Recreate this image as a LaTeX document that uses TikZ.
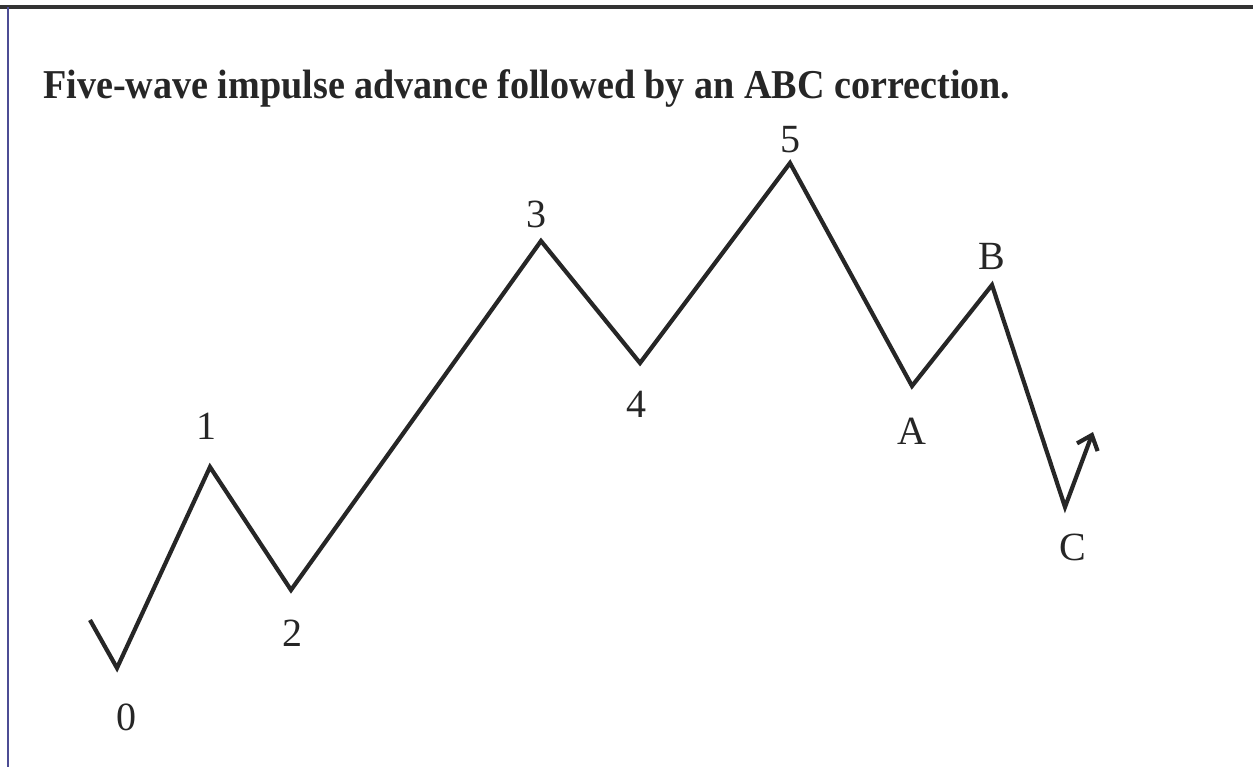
\documentclass[tikz,border=0pt]{standalone}
\usepackage{fontspec}
\setmainfont{Liberation Serif}
\usetikzlibrary{arrows.meta}
\begin{document}
\begin{tikzpicture}[x=1pt,y=-1pt,
  wave/.style={line width=4.2pt,draw=black!85,line join=miter,line cap=butt},
  lab/.style={font=\fontsize{40}{40}\selectfont,inner sep=0pt,text=black!85},
  frameline/.style={draw=black!80}]
\useasboundingbox (0,0) rectangle (1253,767);
\fill[white] (0,0) rectangle (1253,767);
% frame
\coordinate (ftl) at (8,7);
\coordinate (ftr) at (1253,7);
\coordinate (fbl) at (8,767);
\draw[frameline,line width=4pt] (0,7) -- (ftr);
\draw[frameline,line width=2pt,draw=black!60!blue!70] (ftl) -- (fbl);
% title
\node[anchor=base west,inner sep=0pt,font=\bfseries\fontsize{41}{41}\selectfont,text=black!85,xscale=0.93] (title) at (43,99)
  {Five-wave impulse advance followed by an ABC correction.};
% wave points
\coordinate (s) at (90,620);
\coordinate (p0) at (117,668);
\coordinate (p1) at (210,467);
\coordinate (p2) at (291,590);
\coordinate (p3) at (541,241);
\coordinate (p4) at (640,363);
\coordinate (p5) at (790,163);
\coordinate (pA) at (912,386);
\coordinate (pB) at (992,285);
\coordinate (pC) at (1065,507);
\coordinate (tip) at (1093,432);
\draw[wave,-{Straight Barb[length=13pt,width=22pt,line width=4.2pt]}] (s) -- (p0) -- (p1) -- (p2) -- (p3) -- (p4) -- (p5) -- (pA) -- (pB) -- (pC)
  -- (tip);
% labels
\node[lab] (l0) at (126,717) {0};
\node[lab] (l1) at (206,426) {1};
\node[lab] (l2) at (292,633) {2};
\node[lab] (l3) at (536,214) {3};
\node[lab] (l4) at (636,404) {4};
\node[lab] (l5) at (790,140) {5};
\node[lab] (lA) at (912,431) {A};
\node[lab] (lB) at (992,256) {B};
\node[lab] (lC) at (1073,547) {C};
\end{tikzpicture}
\end{document}
